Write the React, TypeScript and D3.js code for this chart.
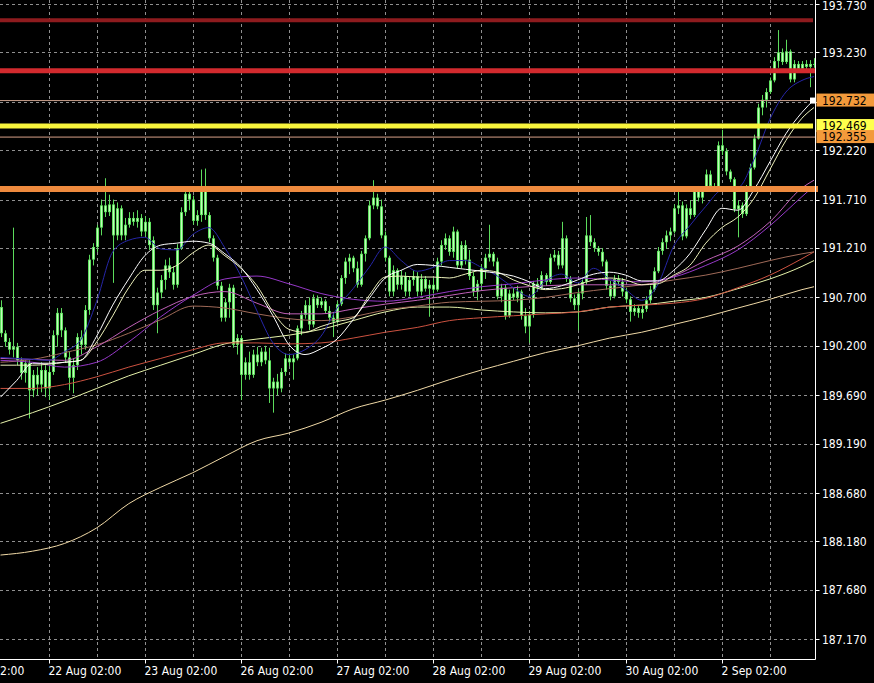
import React from "react";
import * as d3 from "d3";

// ---------- DATA (hourly candles, bar 0 = 21 Aug 14:00) ----------
const opens = [
  190.60, 190.33, 190.24, 190.16, 190.19, 190.05, 189.92, 190.02, 189.74, 189.90,
  189.80, 189.95, 189.76, 189.93, 190.31, 190.54, 190.36, 190.08, 189.87, 190.00,
  190.29, 190.21, 190.57, 191.09, 191.22, 191.42, 191.65, 191.58, 191.66, 191.34,
  191.62, 191.34, 191.45, 191.52, 191.48, 191.52, 191.38, 191.48, 191.29, 190.62,
  190.75, 190.88, 191.03, 190.96, 190.83, 191.21, 191.58, 191.77, 191.71, 191.49,
  191.55, 191.85, 191.55, 191.31, 191.11, 190.82, 190.49, 190.65, 190.80, 190.21,
  190.28, 189.90, 190.03, 189.90, 190.11, 190.03, 190.14, 190.05, 189.76, 189.83,
  189.76, 189.93, 190.07, 190.03, 190.07, 190.38, 190.52, 190.62, 190.42, 190.69,
  190.62, 190.66, 190.56, 190.49, 190.45, 190.63, 190.90, 191.07, 191.11, 191.00,
  190.83, 191.15, 191.31, 191.65, 191.73, 191.64, 191.34, 191.11, 190.76, 190.98,
  190.83, 190.92, 190.76, 190.88, 190.92, 190.76, 190.89, 190.79, 190.83, 190.78,
  191.07, 191.24, 191.31, 191.17, 191.38, 191.03, 191.24, 191.09, 190.92, 190.76,
  190.84, 191.00, 191.11, 191.15, 191.07, 190.71, 190.80, 190.51, 190.74, 190.70,
  190.76, 190.51, 190.40, 190.52, 190.84, 190.80, 190.93, 190.86, 191.11, 191.14,
  191.03, 191.31, 190.89, 190.69, 190.62, 190.74, 190.86, 191.34, 191.27, 191.21,
  191.17, 191.07, 190.82, 190.71, 190.89, 190.86, 190.76, 190.68, 190.55, 190.59,
  190.54, 190.58, 190.67, 190.78, 190.97, 191.18, 191.27, 191.34, 191.38, 191.62,
  191.65, 191.33, 191.62, 191.55, 191.80, 191.73, 191.81, 191.97, 191.85, 191.82,
  192.27, 192.21, 192.00, 191.92, 191.61, 191.65, 191.56, 191.83, 192.04, 192.34,
  192.66, 192.74, 192.82, 192.94, 193.14, 193.23, 193.13, 193.24, 192.95, 193.11,
  193.06, 193.11, 193.08, 193.11,
];
const highs = [
  190.67, 190.36, 190.28, 191.42, 190.23, 190.08, 190.05, 190.05, 189.95, 189.98,
  190.03, 190.00, 190.00, 190.36, 190.59, 190.59, 190.39, 190.14, 190.07, 190.33,
  190.36, 190.62, 191.14, 191.26, 191.45, 191.71, 191.93, 191.76, 191.71, 191.68,
  191.65, 191.52, 191.58, 191.58, 191.60, 191.56, 191.54, 191.52, 191.33, 190.80,
  190.93, 191.09, 191.11, 191.02, 191.25, 191.63, 191.83, 191.81, 191.75, 191.60,
  192.02, 192.03, 191.58, 191.34, 191.14, 190.86, 190.69, 190.84, 190.83, 190.32,
  190.31, 190.08, 190.14, 190.16, 190.19, 190.18, 190.20, 190.18, 189.87, 189.91,
  189.97, 190.12, 190.12, 190.11, 190.41, 190.56, 190.67, 190.70, 190.73, 190.72,
  190.70, 190.68, 190.61, 190.55, 190.66, 190.93, 191.11, 191.15, 191.13, 191.07,
  191.18, 191.34, 191.70, 191.91, 191.77, 191.71, 191.38, 191.13, 191.03, 191.00,
  190.98, 190.96, 190.92, 190.98, 190.96, 190.94, 190.92, 190.88, 190.90, 191.11,
  191.29, 191.36, 191.34, 191.43, 191.40, 191.28, 191.29, 191.19, 190.96, 190.88,
  191.04, 191.15, 191.45, 191.17, 191.11, 190.84, 190.83, 190.78, 190.80, 190.82,
  190.78, 190.59, 190.56, 190.87, 190.90, 190.97, 190.95, 191.15, 191.19, 191.18,
  191.48, 191.34, 190.92, 190.73, 190.78, 190.90, 191.53, 191.55, 191.31, 191.23,
  191.21, 191.09, 190.87, 190.93, 190.93, 190.90, 190.80, 190.71, 190.63, 190.62,
  190.62, 190.71, 190.82, 191.01, 191.22, 191.31, 191.39, 191.42, 191.66, 191.84,
  191.69, 191.66, 191.70, 191.84, 191.85, 191.85, 192.02, 192.01, 191.88, 192.31,
  192.43, 192.24, 192.02, 191.94, 191.70, 191.68, 191.86, 192.08, 192.38, 192.70,
  192.79, 192.86, 192.97, 193.18, 193.46, 193.27, 193.36, 193.26, 193.15, 193.14,
  193.14, 193.15, 193.15, 193.17,
];
const lows = [
  190.29, 190.19, 190.11, 190.08, 190.00, 189.85, 189.82, 189.45, 189.67, 189.69,
  189.72, 189.67, 189.64, 189.90, 190.19, 190.29, 190.03, 189.74, 189.71, 189.95,
  190.11, 190.16, 190.52, 191.03, 191.17, 191.34, 191.53, 191.54, 190.85, 191.29,
  191.29, 191.29, 191.42, 191.44, 191.42, 191.33, 191.33, 191.19, 190.57, 190.33,
  190.69, 190.78, 190.90, 190.78, 190.80, 191.19, 191.54, 191.60, 191.45, 191.44,
  191.48, 191.50, 191.27, 191.07, 190.78, 190.45, 190.45, 190.49, 190.18, 190.11,
  189.64, 189.85, 189.85, 189.87, 189.99, 189.99, 190.01, 189.61, 189.51, 189.69,
  189.72, 189.89, 189.99, 189.85, 190.05, 190.31, 190.48, 190.36, 190.39, 190.59,
  190.59, 190.53, 190.45, 190.29, 190.43, 190.61, 190.84, 190.94, 190.96, 190.80,
  190.81, 191.07, 191.29, 191.61, 191.61, 191.31, 191.07, 190.71, 190.71, 190.78,
  190.78, 190.71, 190.71, 190.82, 190.71, 190.72, 190.76, 190.50, 190.74, 190.76,
  191.03, 191.19, 191.13, 191.11, 191.00, 191.00, 191.04, 190.88, 190.71, 190.67,
  190.78, 190.89, 191.07, 191.02, 190.68, 190.65, 190.47, 190.49, 190.67, 190.65,
  190.47, 190.33, 190.23, 190.49, 190.76, 190.78, 190.82, 190.84, 191.07, 190.99,
  191.00, 190.86, 190.65, 190.57, 190.36, 190.68, 190.83, 191.23, 191.17, 191.13,
  191.02, 190.78, 190.67, 190.69, 190.82, 190.71, 190.64, 190.45, 190.51, 190.49,
  190.48, 190.55, 190.64, 190.76, 190.95, 191.14, 191.20, 191.28, 191.36, 191.56,
  191.29, 191.31, 191.51, 191.53, 191.69, 191.67, 191.79, 191.82, 191.79, 191.80,
  192.17, 191.96, 191.89, 191.58, 191.32, 191.52, 191.54, 191.81, 192.02, 192.33,
  192.58, 192.66, 192.80, 192.92, 193.07, 193.10, 193.11, 192.92, 192.92, 193.03,
  193.04, 193.03, 192.87, 193.07,
];
const closes = [
  190.33, 190.24, 190.16, 190.19, 190.05, 189.92, 190.02, 189.74, 189.90, 189.80,
  189.95, 189.76, 189.93, 190.31, 190.54, 190.36, 190.08, 189.87, 190.00, 190.29,
  190.21, 190.57, 191.09, 191.22, 191.42, 191.65, 191.58, 191.66, 191.34, 191.62,
  191.34, 191.45, 191.52, 191.48, 191.52, 191.38, 191.48, 191.24, 190.62, 190.75,
  190.88, 191.03, 190.96, 190.83, 191.21, 191.58, 191.77, 191.71, 191.49, 191.55,
  191.85, 191.55, 191.31, 191.11, 190.82, 190.49, 190.65, 190.80, 190.21, 190.28,
  189.90, 190.03, 189.90, 190.11, 190.03, 190.14, 190.05, 189.76, 189.83, 189.76,
  189.93, 190.07, 190.03, 190.07, 190.38, 190.52, 190.62, 190.42, 190.69, 190.62,
  190.66, 190.56, 190.49, 190.45, 190.63, 190.90, 191.07, 191.11, 191.00, 190.83,
  191.15, 191.31, 191.65, 191.73, 191.64, 191.34, 191.11, 190.76, 190.98, 190.83,
  190.92, 190.76, 190.88, 190.92, 190.76, 190.89, 190.79, 190.83, 190.78, 191.07,
  191.24, 191.31, 191.17, 191.38, 191.03, 191.24, 191.09, 190.92, 190.76, 190.84,
  191.00, 191.11, 191.15, 191.07, 190.71, 190.80, 190.51, 190.74, 190.70, 190.76,
  190.51, 190.40, 190.52, 190.84, 190.80, 190.93, 190.86, 191.11, 191.14, 191.03,
  191.31, 190.89, 190.69, 190.62, 190.74, 190.86, 191.34, 191.27, 191.21, 191.17,
  191.07, 190.82, 190.71, 190.89, 190.86, 190.76, 190.68, 190.55, 190.59, 190.54,
  190.58, 190.67, 190.78, 190.97, 191.18, 191.27, 191.34, 191.38, 191.62, 191.65,
  191.33, 191.62, 191.55, 191.80, 191.73, 191.81, 191.97, 191.85, 191.82, 192.27,
  192.21, 192.00, 191.92, 191.61, 191.65, 191.56, 191.83, 192.04, 192.34, 192.66,
  192.74, 192.82, 192.94, 193.14, 193.23, 193.13, 193.24, 192.95, 193.11, 193.06,
  193.11, 193.08, 193.11, 193.10,
];

// moving averages, sampled at bar indices
const slowIdx = [0, 8, 16, 24, 32, 40, 48, 56, 64, 72, 80, 88, 96, 104, 112, 120, 128, 136, 144, 152, 160, 168, 176, 184, 192, 200, 203];
const fastIdx = [0, 4, 8, 12, 16, 20, 24, 28, 32, 36, 40, 44, 48, 52, 56, 60, 64, 68, 72, 76, 80, 84, 88, 92, 96, 100, 104, 108, 112, 116, 120, 124, 128, 132, 136, 140, 144, 148, 152, 156, 160, 164, 168, 172, 176, 180, 184, 188, 192, 196, 200, 203];

const maCream = [188.04, 188.08, 188.16, 188.32, 188.57, 188.74, 188.89, 189.06, 189.22, 189.30, 189.41, 189.55, 189.64, 189.74, 189.85, 189.95, 190.04, 190.13, 190.20, 190.28, 190.34, 190.42, 190.50, 190.59, 190.68, 190.78, 190.81];
const maPaleGreen = [189.40, 189.51, 189.63, 189.76, 189.89, 190.00, 190.11, 190.22, 190.27, 190.31, 190.37, 190.46, 190.55, 190.60, 190.60, 190.57, 190.55, 190.54, 190.55, 190.60, 190.62, 190.66, 190.70, 190.79, 190.89, 191.02, 191.08];
const maRed = [189.76, 189.76, 189.80, 189.88, 189.98, 190.07, 190.16, 190.23, 190.23, 190.22, 190.23, 190.28, 190.34, 190.39, 190.46, 190.49, 190.51, 190.53, 190.55, 190.60, 190.62, 190.64, 190.69, 190.80, 190.93, 191.10, 191.17];
const maBrown = [190.03, 190.06, 190.13, 190.21, 190.33, 190.47, 190.61, 190.59, 190.53, 190.48, 190.46, 190.50, 190.57, 190.61, 190.65, 190.66, 190.67, 190.70, 190.75, 190.79, 190.83, 190.88, 190.93, 191.00, 191.08, 191.15, 191.17];
const maPurple = [190.05, 190.03, 189.98, 190.03, 190.24, 190.50, 190.72, 190.89, 190.92, 190.84, 190.74, 190.68, 190.66, 190.70, 190.76, 190.81, 190.84, 190.88, 190.90, 190.88, 190.86, 190.91, 191.03, 191.19, 191.44, 191.74, 191.85];
const maMagenta = [190.07, 190.06, 190.05, 190.19, 190.39, 190.57, 190.71, 190.76, 190.64, 190.53, 190.53, 190.58, 190.63, 190.67, 190.72, 190.77, 190.80, 190.82, 190.83, 190.83, 190.83, 190.92, 191.08, 191.23, 191.48, 191.83, 191.91];
const maWhite = [189.67, 189.84, 190.02, 190.02, 190.03, 190.05, 190.30, 190.62, 190.89, 191.13, 191.24, 191.26, 191.28, 191.26, 191.15, 191.01, 190.78, 190.51, 190.21, 190.11, 190.17, 190.27, 190.47, 190.69, 190.90, 190.98, 191.04, 191.03, 191.01, 190.99, 190.97, 190.95, 190.92, 190.86, 190.79, 190.82, 190.88, 190.94, 190.96, 190.93, 190.87, 190.87, 190.98, 191.15, 191.40, 191.62, 191.60, 191.81, 192.10, 192.39, 192.61, 192.74];
const maPale = [190.00, 190.00, 190.00, 190.01, 190.03, 190.05, 190.24, 190.51, 190.80, 190.98, 190.98, 191.03, 191.16, 191.24, 191.13, 191.00, 190.82, 190.55, 190.37, 190.34, 190.40, 190.45, 190.49, 190.72, 190.91, 190.92, 190.91, 190.91, 190.90, 190.94, 190.98, 190.96, 190.88, 190.82, 190.78, 190.79, 190.83, 190.88, 190.90, 190.88, 190.83, 190.84, 190.93, 191.03, 191.26, 191.42, 191.53, 191.72, 192.02, 192.32, 192.55, 192.66];
const maBlue = [190.08, 190.07, 190.06, 190.05, 190.14, 190.26, 190.66, 191.17, 191.29, 191.32, 191.20, 191.19, 191.35, 191.42, 191.21, 190.92, 190.56, 190.23, 190.11, 190.16, 190.30, 190.59, 190.79, 191.01, 191.22, 191.08, 190.97, 191.01, 191.08, 191.08, 191.01, 190.92, 190.80, 190.71, 190.87, 190.94, 190.85, 191.00, 190.89, 190.78, 190.67, 190.83, 191.23, 191.44, 191.64, 191.81, 191.83, 192.12, 192.54, 192.82, 192.94, 192.98];

// horizontal levels
const levelDarkRed = 193.56;
const levelRed = 193.04;
const levelBid = 192.732;
const levelYellow = 192.469;
const levelThin = 192.355;
const levelOrange = 191.82;

// axis ticks
const yTickValues = [193.73, 193.23, 192.72, 192.22, 191.71, 191.21, 190.70, 190.20, 189.69, 189.19, 188.68, 188.18, 187.68, 187.17];
const yTickLabels = ["193.730", "193.230", "", "192.220", "191.710", "191.210", "190.700", "190.200", "189.690", "189.190", "188.680", "188.180", "187.680", "187.170"];
const timeLabels = ["21 Aug 02:00", "22 Aug 02:00", "23 Aug 02:00", "26 Aug 02:00", "27 Aug 02:00", "28 Aug 02:00", "29 Aug 02:00", "30 Aug 02:00", "2 Sep 02:00"];
const timeIdx = [-12, 12, 36, 60, 84, 108, 132, 156, 180];

// price tags on the right axis
const tagValues = [192.732, 192.469, 192.355];
const tagLabels = ["192.732", "192.469", "192.355"];

const FONT = "'DejaVu Sans Condensed', 'Liberation Sans Narrow', 'DejaVu Sans', sans-serif";

export default function App() {
  const axisX = 815.5;
  const axisY = 659.5;
  const x = d3.scaleLinear().domain([0, 203]).range([0.5, 814]);
  const y = d3.scaleLinear().domain([187.17, 193.73]).range([639.3, 3.9]);

  const line = (idx: number[], vals: number[]) =>
    d3
      .line<number>()
      .x((_, i) => x(idx[i]))
      .y((v) => y(v))
      .curve(d3.curveMonotoneX)(vals) || "";

  const gridIdx = d3.range(12, 203, 12);

  const maLines = [
    { d: line(slowIdx, maCream), c: "#f0d9a6" },
    { d: line(slowIdx, maPaleGreen), c: "#e6f2aa" },
    { d: line(slowIdx, maRed), c: "#cc5240" },
    { d: line(slowIdx, maBrown), c: "#a06a58" },
    { d: line(slowIdx, maMagenta), c: "#c060b8" },
    { d: line(slowIdx, maPurple), c: "#9638c8" },
    { d: line(fastIdx, maBlue), c: "#2626a8" },
    { d: line(fastIdx, maPale), c: "#eef2bc" },
    { d: line(fastIdx, maWhite), c: "#ffffff" },
  ];

  const tagColors = ["#f39a3b", "#ffff4c", "#f39a3b"];

  return (
    <svg
      width={874}
      height={683}
      style={{ position: "absolute", left: 0, top: 0, background: "#000", display: "block" }}
    >
      <rect x={0} y={0} width={874} height={683} fill="#000" />
      <defs>
        <clipPath id="plot">
          <rect x={0} y={0} width={axisX} height={axisY} />
        </clipPath>
      </defs>

      {/* grid */}
      <g stroke="#8f8f8f" strokeWidth={1} strokeDasharray="3,3" shapeRendering="crispEdges">
        {yTickValues.map((v, i) => (
          <line key={"h" + i} x1={0} x2={axisX} y1={Math.round(y(v)) + 0.5} y2={Math.round(y(v)) + 0.5} />
        ))}
        {gridIdx.map((j) => (
          <line key={"v" + j} x1={Math.round(x(j)) + 0.5} x2={Math.round(x(j)) + 0.5} y1={0} y2={axisY} />
        ))}
      </g>

      <g clipPath="url(#plot)">
        {/* candles */}
        {closes.map((c, j) => {
          const o = opens[j];
          const cx = Math.round(x(j)) + 0.5;
          const top = y(Math.max(o, c));
          const bot = y(Math.min(o, c));
          const h = Math.max(1, bot - top);
          return (
            <g key={j}>
              <line x1={cx} x2={cx} y1={y(highs[j])} y2={y(lows[j])} stroke="#5cdc5c" strokeWidth={1} />
              <rect x={cx - 1.5} y={top} width={3} height={h} fill="#5ee05e" />
              {h > 2 && <line x1={cx} x2={cx} y1={top + 0.8} y2={top + h - 0.8} stroke="#c4fcbc" strokeWidth={1} />}
            </g>
          );
        })}

        {/* moving averages */}
        {maLines.map((m, i) => (
          <path key={i} d={m.d} fill="none" stroke={m.c} strokeWidth={1} />
        ))}
      </g>

      {/* horizontal levels */}
      <line x1={0} x2={813} y1={y(levelDarkRed)} y2={y(levelDarkRed)} stroke="#8e1b1e" strokeWidth={4} />
      <line x1={0} x2={816} y1={y(levelRed)} y2={y(levelRed)} stroke="#d22a2e" strokeWidth={5} />
      <line x1={0} x2={axisX} y1={y(levelBid)} y2={y(levelBid)} stroke="#c9a08c" strokeWidth={1} />
      <line x1={0} x2={axisX} y1={y(levelThin)} y2={y(levelThin)} stroke="#d8a088" strokeWidth={1} />
      <line x1={0} x2={813} y1={y(levelYellow)} y2={y(levelYellow)} stroke="#f8f43c" strokeWidth={5} />
      <line x1={0} x2={818} y1={y(levelOrange)} y2={y(levelOrange)} stroke="#ee8a3e" strokeWidth={6} />
      <rect x={810} y={y(levelBid) - 3} width={6} height={6} fill="#ffffff" />

      {/* axes */}
      <line x1={axisX} x2={axisX} y1={0} y2={axisY} stroke="#fff" strokeWidth={1} />
      <line x1={0} x2={axisX} y1={axisY} y2={axisY} stroke="#fff" strokeWidth={1} />

      {/* y ticks */}
      {yTickValues.map((v, i) => (
        <g key={"yt" + i}>
          <line x1={axisX} x2={axisX + 4} y1={Math.round(y(v)) + 0.5} y2={Math.round(y(v)) + 0.5} stroke="#fff" />
          {yTickLabels[i] && (
            <text x={822} y={Math.max(y(v) + 1, 6.5)} dominantBaseline="middle" fill="#fff" fontSize={12} fontFamily={FONT}>
              {yTickLabels[i]}
            </text>
          )}
        </g>
      ))}

      {/* x ticks */}
      {timeIdx.map((j, i) => {
        const tx = Math.round(x(j)) + 0.5;
        return (
          <g key={"xt" + i}>
            <line x1={tx} x2={tx} y1={axisY} y2={axisY + 4} stroke="#fff" />
            <text x={tx - 1} y={675} fill="#fff" fontSize={12} fontFamily={FONT}>
              {timeLabels[i]}
            </text>
          </g>
        );
      })}

      {/* price tags */}
      {tagValues.map((v, i) => (
        <g key={"tag" + i}>
          <rect x={axisX + 1} y={y(v) - 7} width={874 - axisX} height={13} fill={tagColors[i]} />
          <text x={822} y={y(v) + 0.5} dominantBaseline="middle" fill="#000" fontSize={12} fontFamily={FONT}>
            {tagLabels[i]}
          </text>
        </g>
      ))}
    </svg>
  );
}
